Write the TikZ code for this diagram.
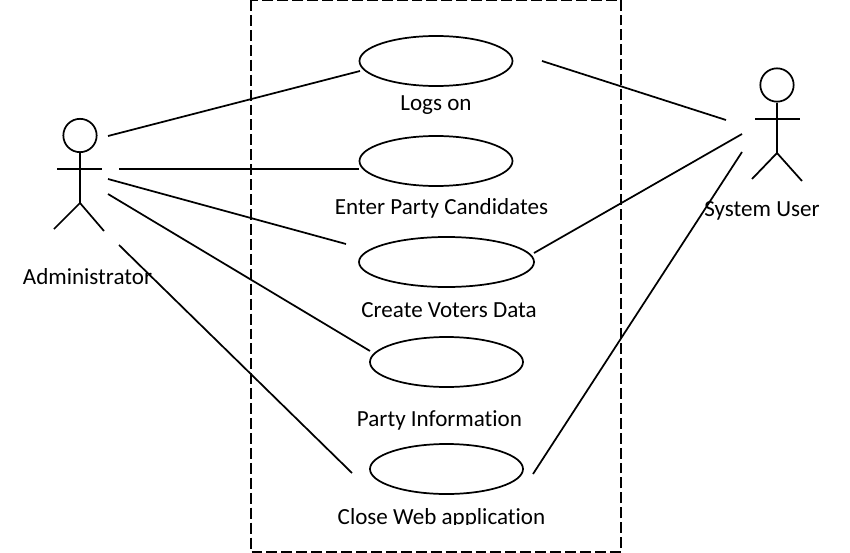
\documentclass[tikz,border=0pt]{standalone}
\usepackage{fontspec}
\setmainfont[Ligatures=CommonOff]{Carlito}
\usetikzlibrary{shapes.geometric}
\tikzset{
  usecase/.style={draw,ellipse,line width=1.3pt,minimum width=153pt*0.75,minimum height=50pt*0.75,inner sep=0pt},
  label/.style={font=\fontsize{17.3}{20}\selectfont,inner sep=0pt},
  link/.style={line width=1.3pt},
  actor/.style={line width=1.3pt}
}
\begin{document}
\begin{tikzpicture}[x=0.75pt,y=-0.75pt]
   \useasboundingbox (0,0) rectangle (850,553);
   % boundary
   \draw[line width=1.8pt,dash pattern=on 8.2pt off 3pt] (251,0) rectangle (621,552);
   % use cases
   \node[usecase] (logs) at (436,61) {};
   \node[usecase] (enter) at (436,161) {};
   \node[usecase,minimum width=175pt*0.75] (create) at (446.5,262) {};
   \node[usecase] (party) at (446.5,362) {};
   \node[usecase] (close) at (446.5,469) {};
   \node[label] (logstxt) at (436,105) {Logs on};
   \node[label] (entertxt) at (441.5,208.5) {Enter Party Candidates};
   \node[label] (createtxt) at (449,310.5) {Create Voters Data};
   \node[label] (partytxt) at (439.5,420.5) {Party Information};
   \begin{scope}
     \clip (300,500) rectangle (600,524);
     \node[label] (closetxt) at (441.5,518.5) {Close Web application};
   \end{scope}
   % administrator
   \node[draw,actor,circle,minimum size=25pt,inner sep=0pt] (adminhead) at (80,135.5) {};
   \coordinate (adminhip) at (80,203);
   \draw[actor] (adminhead) -- (adminhip);
   \draw[actor] (57,169) -- (102,169);
   \draw[actor] (54,229) -- (adminhip) -- (104,231);
   \node[label] (admintxt) at (87.5,276.5) {Administrator};
   % system user
   \node[draw,actor,circle,minimum size=25pt,inner sep=0pt] (userhead) at (777,85) {};
   \coordinate (userhip) at (777,153);
   \draw[actor] (userhead) -- (userhip);
   \draw[actor] (755,119) -- (800,119);
   \draw[actor] (752,179) -- (userhip) -- (802,181);
   \node[label] (usertxt) at (762,210.5) {System User};
   % connectors
   \coordinate (a1) at (108,136);
   \coordinate (a2) at (119,169);
   \coordinate (a3) at (108,179);
   \coordinate (a4) at (108,194);
   \coordinate (a5) at (119,245);
   \coordinate (u1) at (726,120);
   \coordinate (u2) at (742,134);
   \coordinate (u3) at (742,152);
   \coordinate (c1) at (360,71);
   \coordinate (c2) at (359,169);
   \coordinate (c3) at (346,244);
   \coordinate (c4) at (370,351);
   \coordinate (c5) at (352,473);
   \coordinate (c6) at (542,61);
   \coordinate (c7) at (534,253);
   \coordinate (c8) at (533,474);
   \draw[link] (a1) -- (c1);
   \draw[link] (a2) -- (c2);
   \draw[link] (a3) -- (c3);
   \draw[link] (a4) -- (c4);
   \draw[link] (a5) -- (c5);
   \draw[link] (c6) -- (u1);
   \draw[link] (c7) -- (u2);
   \draw[link] (c8) -- (u3);
\end{tikzpicture}
\end{document}
